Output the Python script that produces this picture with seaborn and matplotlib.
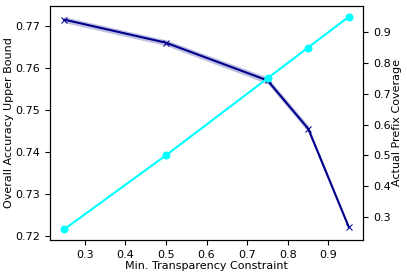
import pandas as pd
import seaborn as sns
import matplotlib.pyplot as plt

plt.rcdefaults()

# values
transparency = [0.25, 0.5, 0.75, 0.85, 0.95]
accuracy = [0.7715, 0.7660, 0.7570, 0.7455, 0.7220]
acc_low = [0.7708, 0.7653, 0.7562, 0.7447, 0.7215]
acc_high = [0.7722, 0.7667, 0.7578, 0.7463, 0.7225]
coverage = [0.26, 0.50, 0.75, 0.85, 0.95]

df = pd.DataFrame({
    "Transparency": transparency,
    "Accuracy": accuracy,
    "Low": acc_low,
    "High": acc_high,
    "Coverage": coverage,
})

fig, ax = plt.subplots(figsize=(4.07, 2.77), dpi=100)

sns.lineplot(data=df, x="Transparency", y="Accuracy", color="darkblue",
             marker="x", markersize=5, markeredgecolor="darkblue", linewidth=1.5, ax=ax)
ax.fill_between(df["Transparency"], df["Low"], df["High"], color="darkblue", alpha=0.25, linewidth=0)
ax.set_xlabel("Min. Transparency Constraint", fontsize=8, labelpad=1)
ax.set_ylabel("Overall Accuracy Upper Bound", fontsize=8, labelpad=1)
ax.tick_params(labelsize=8)

ax2 = ax.twinx()
sns.lineplot(data=df, x="Transparency", y="Coverage", color="cyan",
             marker="o", markersize=5, markeredgecolor="cyan", linewidth=1.5, ax=ax2)
ax2.set_ylabel("Actual Prefix Coverage", fontsize=8, labelpad=1)
ax2.tick_params(labelsize=8)

ax.set_xticks([0.3, 0.4, 0.5, 0.6, 0.7, 0.8, 0.9])

fig.subplots_adjust(left=0.123, right=0.892, top=0.978, bottom=0.134)
fig.savefig("out.png", dpi=100)
